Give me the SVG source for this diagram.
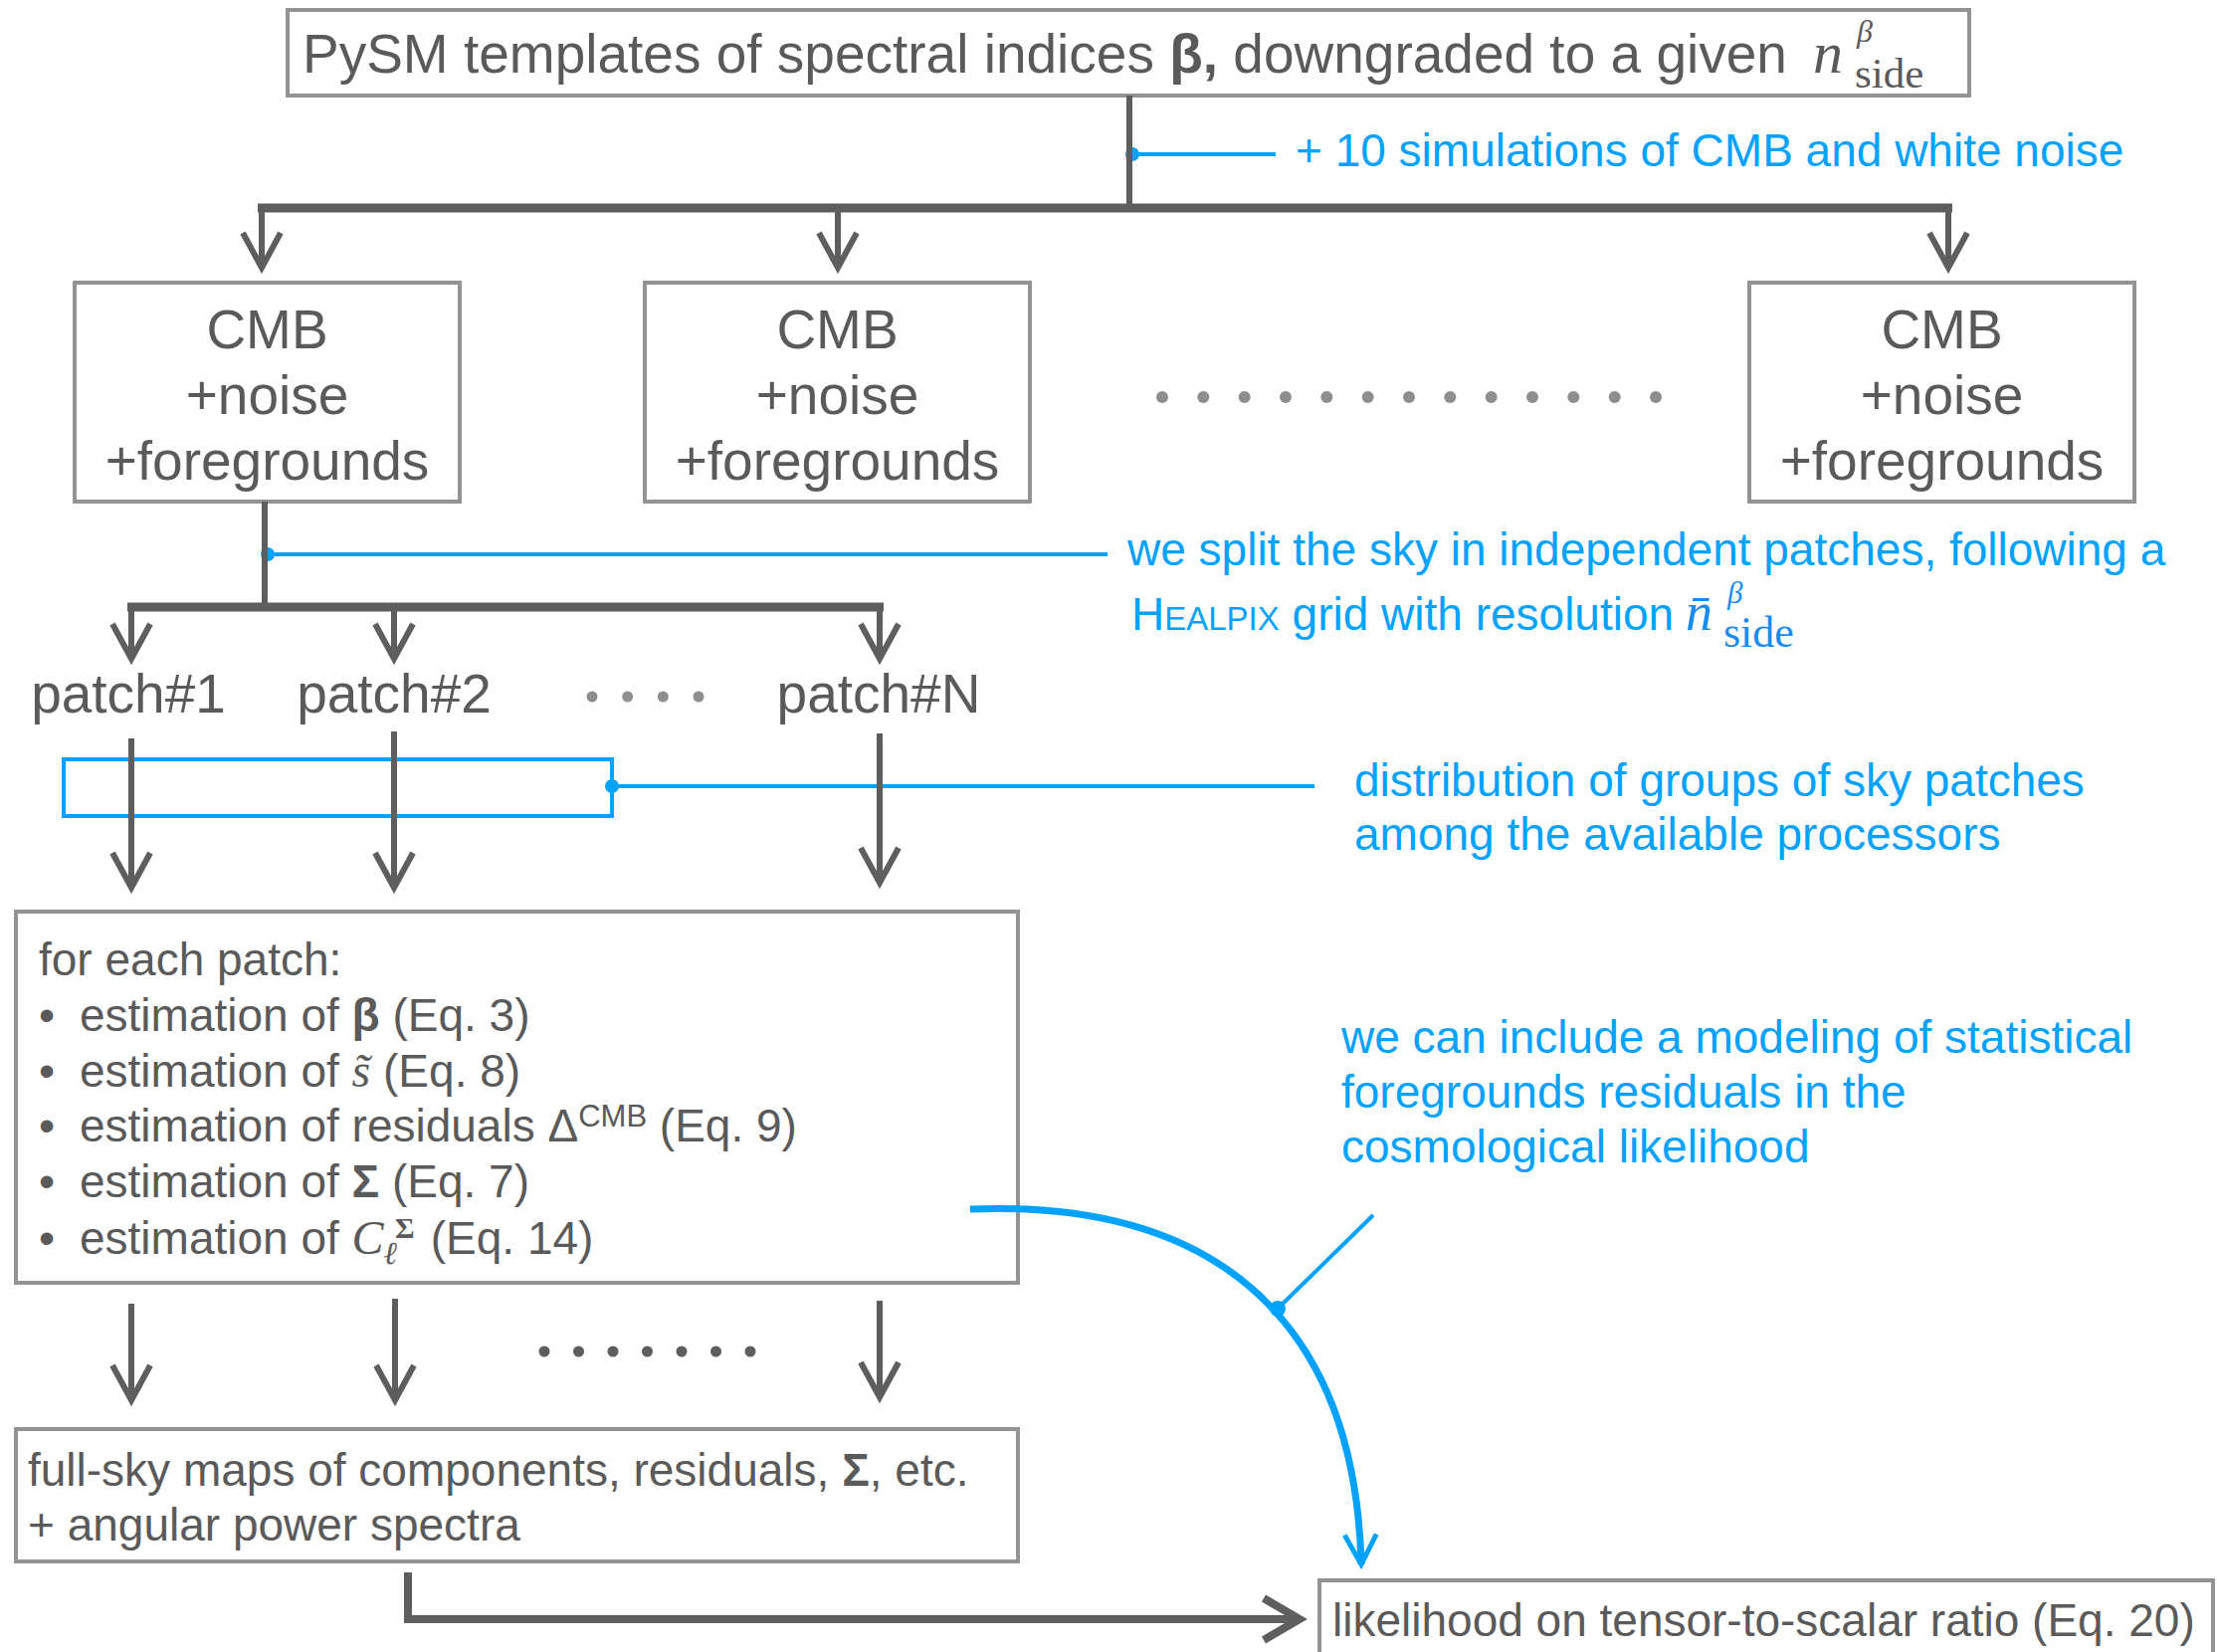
<svg xmlns="http://www.w3.org/2000/svg" width="2228" height="1660" viewBox="0 0 2228 1660">
<style>
.t{font-family:'Liberation Sans',Arial,Helvetica,sans-serif;fill:#5a5a5a}
.big{font-size:55px}
.sm{font-size:46px}
.b{fill:#00a2ff}
.m{font-family:'Liberation Serif','Times New Roman',serif;font-style:italic}
.r{font-family:'Liberation Serif','Times New Roman',serif;font-style:normal}
.box{fill:#ffffff;stroke:#939393;stroke-width:4}
.ln{stroke:#5e5e5e;fill:none;stroke-width:6}
.bar{stroke:#5e5e5e;fill:none;stroke-width:9}
.bl{stroke:#00a2ff;fill:none;stroke-width:4}
.bd{fill:#00a2ff}
.dl{fill:#8e8e8e}
.dd{fill:#5e5e5e}
</style>
<defs>
<marker id="ah" markerUnits="userSpaceOnUse" viewBox="-45 -30 56 60" refX="0" refY="0" markerWidth="56" markerHeight="60" orient="auto">
<path d="M-35 -19 L0 0 L-35 19" fill="none" stroke="#5e5e5e" stroke-width="6"/>
</marker>
<marker id="ahL" markerUnits="userSpaceOnUse" viewBox="-48 -32 62 64" refX="0" refY="0" markerWidth="62" markerHeight="64" orient="auto">
<path d="M-36 -21 L0 0 L-36 21" fill="none" stroke="#5e5e5e" stroke-width="8"/>
</marker>
<marker id="ahB" markerUnits="userSpaceOnUse" viewBox="-40 -26 50 52" refX="0" refY="0" markerWidth="50" markerHeight="52" orient="auto">
<path d="M-30 -16 L0 0 L-30 16" fill="none" stroke="#00a2ff" stroke-width="5"/>
</marker>
</defs>
<rect x="0" y="0" width="2228" height="1660" fill="#ffffff"/>

<g id="top">
<rect class="box" x="289" y="10" width="1690" height="86"/>
<text class="t big" x="304" y="73">PySM templates of spectral indices <tspan font-weight="bold">β,</tspan> downgraded to a given</text>
<text class="m" fill="#5a5a5a"><tspan x="1822" y="73" font-size="60">n</tspan><tspan x="1866" y="42" font-size="32">β</tspan><tspan class="r" x="1864" y="88" font-size="43">side</tspan></text>
</g>

<g id="note-sims">
<text class="t sm b" x="1302" y="167">+ 10 simulations of CMB and white noise</text>
</g>

<g id="cmb1">
<rect class="box" x="75" y="284" width="387" height="220"/>
<text class="t big" text-anchor="middle" x="268.5" y="350">CMB</text>
<text class="t big" text-anchor="middle" x="268.5" y="416">+noise</text>
<text class="t big" text-anchor="middle" x="268.5" y="482">+foregrounds</text>
</g>
<g id="cmb2">
<rect class="box" x="648" y="284" width="387" height="220"/>
<text class="t big" text-anchor="middle" x="841.5" y="350">CMB</text>
<text class="t big" text-anchor="middle" x="841.5" y="416">+noise</text>
<text class="t big" text-anchor="middle" x="841.5" y="482">+foregrounds</text>
</g>
<g id="cmb3">
<rect class="box" x="1758" y="284" width="387" height="220"/>
<text class="t big" text-anchor="middle" x="1951.5" y="350">CMB</text>
<text class="t big" text-anchor="middle" x="1951.5" y="416">+noise</text>
<text class="t big" text-anchor="middle" x="1951.5" y="482">+foregrounds</text>
</g>

<g id="dots-cmb">
<circle class="dl" cx="1168" cy="399" r="6"/>
<circle class="dl" cx="1209.3" cy="399" r="6"/>
<circle class="dl" cx="1250.7" cy="399" r="6"/>
<circle class="dl" cx="1292" cy="399" r="6"/>
<circle class="dl" cx="1333.3" cy="399" r="6"/>
<circle class="dl" cx="1374.7" cy="399" r="6"/>
<circle class="dl" cx="1416" cy="399" r="6"/>
<circle class="dl" cx="1457.3" cy="399" r="6"/>
<circle class="dl" cx="1498.7" cy="399" r="6"/>
<circle class="dl" cx="1540" cy="399" r="6"/>
<circle class="dl" cx="1581.3" cy="399" r="6"/>
<circle class="dl" cx="1622.7" cy="399" r="6"/>
<circle class="dl" cx="1664" cy="399" r="6"/>
</g>

<g id="note-split">
<text class="t sm b" x="1133" y="568">we split the sky in independent patches, following a</text>
<text class="t sm b" x="1137" y="633">H<tspan font-size="33">EALPIX</tspan> grid with resolution</text>
<text class="m" fill="#1a8cf0"><tspan x="1694" y="633" font-size="54">n̄</tspan><tspan x="1736" y="606" font-size="31">β</tspan><tspan class="r" x="1732" y="650" font-size="44">side</tspan></text>
</g>

<g id="patch1"><text class="t big" text-anchor="middle" x="129" y="716">patch#1</text></g>
<g id="patch2"><text class="t big" text-anchor="middle" x="396" y="716">patch#2</text></g>
<g id="patchN"><text class="t big" text-anchor="middle" x="883" y="716">patch#N</text></g>
<g id="dots-patch">
<circle class="dl" cx="595" cy="700" r="5.5"/>
<circle class="dl" cx="630.7" cy="700" r="5.5"/>
<circle class="dl" cx="666.3" cy="700" r="5.5"/>
<circle class="dl" cx="702" cy="700" r="5.5"/>
</g>

<g id="note-distribution">
<text class="t sm b" x="1361" y="800">distribution of groups of sky patches</text>
<text class="t sm b" x="1361" y="854">among the available processors</text>
</g>

<g id="for-each-patch">
<rect class="box" x="16" y="916" width="1007" height="373"/>
<text class="t sm" x="39" y="980">for each patch:</text>
<text class="t sm" x="39" y="1036">•<tspan x="80">estimation of </tspan><tspan font-weight="bold">β</tspan> (Eq. 3)</text>
<text class="t sm" x="39" y="1092">•<tspan x="80">estimation of </tspan><tspan class="m" font-size="48">s̃</tspan> (Eq. 8)</text>
<text class="t sm" x="39" y="1147">•<tspan x="80">estimation of residuals Δ</tspan><tspan font-size="31" dy="-15">CMB</tspan><tspan dy="15"> (Eq. 9)</tspan></text>
<text class="t sm" x="39" y="1203">•<tspan x="80">estimation of </tspan><tspan font-weight="bold">Σ</tspan> (Eq. 7)</text>
<text class="t sm" x="39" y="1260">•<tspan x="80">estimation of </tspan><tspan class="m" font-size="48">C</tspan><tspan class="m" font-size="32" dy="10">ℓ</tspan><tspan class="r" font-weight="bold" font-size="30" x="397" dy="-26">Σ</tspan><tspan x="420" dy="16"> (Eq. 14)</tspan></text>
</g>

<g id="note-likelihood">
<text class="t sm b" x="1348" y="1058">we can include a modeling of statistical</text>
<text class="t sm b" x="1348" y="1113">foregrounds residuals in the</text>
<text class="t sm b" x="1348" y="1168">cosmological likelihood</text>
</g>

<g id="dots-maps">
<circle class="dd" cx="547" cy="1358" r="5.5"/>
<circle class="dd" cx="581.5" cy="1358" r="5.5"/>
<circle class="dd" cx="616" cy="1358" r="5.5"/>
<circle class="dd" cx="650.5" cy="1358" r="5.5"/>
<circle class="dd" cx="685" cy="1358" r="5.5"/>
<circle class="dd" cx="719.5" cy="1358" r="5.5"/>
<circle class="dd" cx="754" cy="1358" r="5.5"/>
</g>

<g id="full-sky">
<rect class="box" x="16" y="1436" width="1007" height="133"/>
<text class="t sm" x="28" y="1493">full-sky maps of components, residuals, <tspan font-weight="bold">Σ</tspan>, etc.</text>
<text class="t sm" x="28" y="1548">+ angular power spectra</text>
</g>

<g id="likelihood">
<rect class="box" x="1326" y="1588" width="898" height="100"/>
<text class="t sm" x="1339" y="1644">likelihood on tensor-to-scalar ratio (Eq. 20)</text>
</g>

<g id="annotations">
<path class="bl" d="M1138 155 H1282"/>
<circle class="bd" cx="1138" cy="155" r="7"/>
<path class="bl" d="M269 557 H1113"/>
<circle class="bd" cx="269" cy="557" r="7"/>
<rect class="bl" x="64" y="763" width="551" height="57"/>
<path class="bl" d="M615 790 H1321"/>
<circle class="bd" cx="615" cy="790" r="7"/>
<path d="M975 1215 C1230 1205 1362 1335 1368 1572" fill="none" stroke="#00a2ff" stroke-width="7" marker-end="url(#ahB)"/>
<path class="bl" d="M1380 1221 L1285 1314"/>
<circle class="bd" cx="1284" cy="1315" r="8"/>
</g>

<g id="connectors">
<path class="ln" d="M1135 96 V209"/>
<path class="bar" d="M259 209 H1962"/>
<path class="ln" d="M263 209 V269" marker-end="url(#ah)"/>
<path class="ln" d="M842 209 V269" marker-end="url(#ah)"/>
<path class="ln" d="M1958 209 V269" marker-end="url(#ah)"/>
<path class="ln" d="M266 504 V610"/>
<path class="bar" d="M128 610 H888"/>
<path class="ln" d="M132 610 V662" marker-end="url(#ah)"/>
<path class="ln" d="M396 610 V662" marker-end="url(#ah)"/>
<path class="ln" d="M884 610 V662" marker-end="url(#ah)"/>
<path class="ln" d="M132 742 V892" marker-end="url(#ah)"/>
<path class="ln" d="M396 735 V892" marker-end="url(#ah)"/>
<path class="ln" d="M884 737 V887" marker-end="url(#ah)"/>
<path class="ln" d="M132 1310 V1407" marker-end="url(#ah)"/>
<path class="ln" d="M397 1305 V1407" marker-end="url(#ah)"/>
<path class="ln" d="M884 1307 V1404" marker-end="url(#ah)"/>
<path d="M410 1580 V1627 H1306" fill="none" stroke="#5e5e5e" stroke-width="8" marker-end="url(#ahL)"/>
</g>
</svg>
